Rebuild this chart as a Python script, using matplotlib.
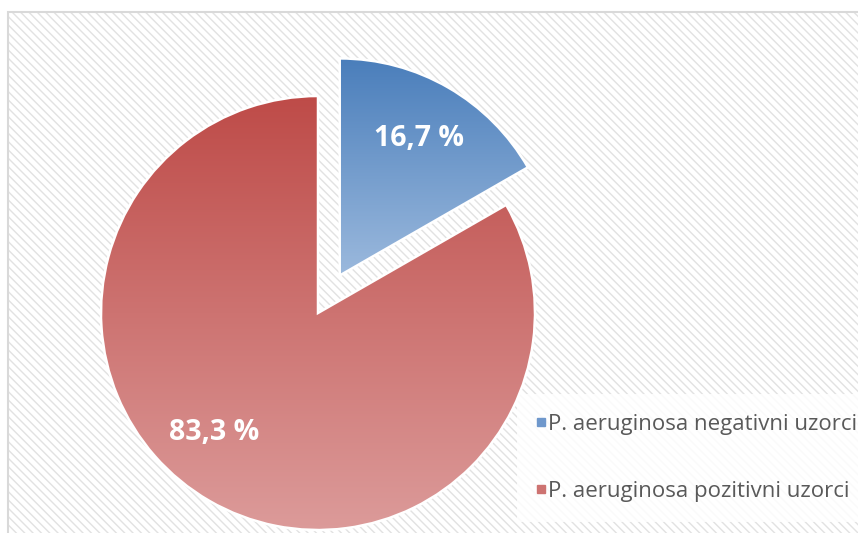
import matplotlib
matplotlib.use("Agg")
import matplotlib.pyplot as plt
import numpy as np
from matplotlib.patches import Rectangle
from matplotlib.lines import Line2D
from matplotlib.colors import LinearSegmentedColormap

plt.rcParams['font.family'] = ['Open Sans', 'DejaVu Sans']
plt.rcParams['hatch.linewidth'] = 1.0

categories = ["P. aeruginosa negativni uzorci", "P. aeruginosa pozitivni uzorci"]
values = [16.7, 83.3]
explode = [0.2, 0]
# gradient colours, top -> bottom
top_colors = ["#4a7ebb", "#be4b48"]
bottom_colors = ["#9bb9dd", "#dc9b9a"]

W, H = 858, 533
fig = plt.figure(figsize=(W / 100, H / 100), dpi=100)

# hatched chart area background with grey border (cut off at right/bottom)
x0, y0 = 8 / W, 1 - 12 / H
bg = Rectangle((x0, -0.1), 1.2, y0 + 0.1, transform=fig.transFigure,
               facecolor="white", edgecolor="#e2e2e2", hatch="\\\\\\\\", linewidth=0, zorder=-10)
fig.add_artist(bg)
border = Rectangle((x0, -0.1), 1.2, y0 + 0.1, transform=fig.transFigure,
                   facecolor="none", edgecolor="#d9d9d9", linewidth=1.5, zorder=-9)
fig.add_artist(border)

ax = fig.add_axes([0, 0, 1, 1])
ax.patch.set_alpha(0)

def fmt(p):
    return f"{p:.1f} %".replace(".", ",")

wedges, texts, autotexts = ax.pie(values, explode=explode, startangle=90, counterclock=False,
                                  autopct=fmt, pctdistance=0.73,
                                  wedgeprops=dict(edgecolor="white", linewidth=1.8),
                                  textprops=dict(color="white", fontsize=20.5, fontweight="bold"))

for w, c_top, c_bot in zip(wedges, top_colors, bottom_colors):
    verts = w.get_path().vertices
    xmin, ymin = verts.min(axis=0)
    xmax, ymax = verts.max(axis=0)
    cmap = LinearSegmentedColormap.from_list("g", [c_top, c_bot])
    grad = np.linspace(0, 1, 256).reshape(-1, 1)
    im = ax.imshow(grad, cmap=cmap, extent=(xmin, xmax, ymin, ymax), origin="upper",
                   aspect="auto", zorder=w.get_zorder() - 0.1, interpolation="bilinear")
    im.set_clip_path(w)
    w.set_facecolor("none")

for t in autotexts:
    t.set_zorder(5)
# Excel puts the big slice's label a little further round
ang = np.deg2rad(229)
autotexts[1].set_position((0.73 * np.cos(ang), 0.73 * np.sin(ang)))

# center of the pie at pixel (318, 313 from top), radius 217 px
r_px = 217
cx, cy = 318, H - 313
ax.set_xlim(-cx / r_px, (W - cx) / r_px)
ax.set_ylim(-cy / r_px, (H - cy) / r_px)
ax.set_aspect("equal", adjustable="box")
ax.axis("off")

mid_colors = ["#6f98cc", "#cd7371"]
handles = [Line2D([], [], linestyle="none", marker="s", markersize=6,
                  markerfacecolor=c, markeredgecolor=c) for c in mid_colors]
leg = fig.legend(handles, categories, loc="upper left",
                 bbox_to_anchor=(517 / W, 1 - 394 / H), bbox_transform=fig.transFigure,
                 frameon=True, fancybox=False, borderaxespad=0, borderpad=0.88,
                 handlelength=0.42, handletextpad=0.08, labelspacing=2.1,
                 prop=dict(size=16), labelcolor="#595959")
leg.get_frame().set_facecolor("white")
leg.get_frame().set_alpha(0.85)
leg.get_frame().set_linewidth(0)
leg.set_zorder(-5)

fig.savefig("out.png", dpi=100)
